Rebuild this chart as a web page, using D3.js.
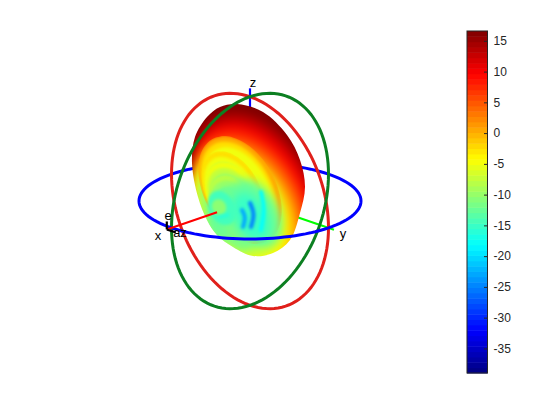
<!DOCTYPE html>
<html><head><meta charset="utf-8">
<style>html,body{margin:0;padding:0;background:#fff}svg{display:block}text{font-family:"Liberation Sans",Arial,sans-serif}</style>
<script src="https://cdn.jsdelivr.net/npm/d3@7/dist/d3.min.js"></script>
</head><body><div id="chart"></div>
<script>
// colour range of the pattern (dB)
const valueRange = [-39, 16.6];
const colorTicks = [15,10,5,0,-5,-10,-15,-20,-25,-30,-35];
// view of the sphere
const viewAz = 45, viewEl = 20, sphereR = 111;
// outline of the radiation pattern, in view-plane units [u, v]
const outline = [[-13,97],[13,89],[37,66],[50,41],[55,14],[50,-12],[40,-39],[23,-52],[3,-55],[-17,-46],[-33,-34],[-43,-19],[-52,4],[-58,38],[-55,64],[-43,84],[-30,94]];
// main lobe iso-level contours: value, centre, semi-axes
const bodyValue = [14, 11, 8, 5, 2, -1, -4, -7, -10];
const bodyCu    = [5, 5, 2, -2, -5, -7, -10, -10, -12];
const bodyCv    = [9, 1, -4, -7, -11, -13, -11, -6, -4];
const bodyA     = [85, 85, 82, 76, 74, 70, 62, 55, 46];
const bodyB     = [57, 55, 53, 52, 50, 47, 44, 40, 36];
// side lobes: centre, semi-axes and values from rim inwards
const lobeCu = [-10, -17, -18, -20];
const lobeCv = [11, 9, 5, 1];
const lobeA  = [58, 44, 36, 26];
const lobeB  = [36, 27, 24, 20];
const lobeV  = [[0.5,-2.5,-5],[-2.5,-5,-7.5],[-5,-7.5,-9.5],[-8,-10,-12]];
const coreCu = [-28, -31];
const coreCv = [-7, -6];
const coreA  = [18, 8];
const coreB  = [13, 7];
const coreV  = [-14.5, -10.5];
// cool regions near the lower part of the lobes, and null streaks
const coolCu = [-27, -12, 5, 1];
const coolCv = [-22, -30, -12, -16];
const coolA  = [18, 20, 36, 26];
const coolB  = [15, 12, 23, 16];
const coolV  = [-12.5, -11.5, -12.5, -15];
const streaks = [
 {v:-23, w:4, pts:[[-8,-9],[-4,-16],[-7,-26]]},
 {v:-25, w:4, pts:[[0,-2],[5,-13],[1,-26]]},
 {v:-18, w:4, pts:[[11,9],[15,-8],[11,-29]]},
 {v:-16, w:3, pts:[[-22,-14],[-30,-16]]}
];
const tiltDeg = -62;

const W=560,H=420;
const cx=250, cy=201;
const u = d3.scaleLinear().domain([-sphereR,sphereR]).range([cx-sphereR,cx+sphereR]);
const v = d3.scaleLinear().domain([-sphereR,sphereR]).range([cy+sphereR,cy-sphereR]);
const svg = d3.select('#chart').append('svg').attr('width',W).attr('height',H);
const defs = svg.append('defs');

function jet(t){
  const f=(x)=>Math.max(0,Math.min(1,x));
  const r=f(Math.min(4*t-1.5,-4*t+4.5)), g=f(Math.min(4*t-0.5,-4*t+3.5)), b=f(Math.min(4*t+0.5,-4*t+2.5));
  return d3.rgb(r*255,g*255,b*255).formatHex();
}
const tScale = d3.scaleLinear().domain(valueRange).range([0,1]).clamp(true);
const col = d => jet(tScale(d));

// 3D projection
const az=viewAz*Math.PI/180, el=viewEl*Math.PI/180;
const proj=([x,y,z])=>[
  sphereR*(-Math.cos(az)*x+Math.sin(az)*y),
  sphereR*(-Math.sin(az)*Math.sin(el)*x-Math.cos(az)*Math.sin(el)*y+Math.cos(el)*z)];
const line=d3.line().x(d=>u(d[0])).y(d=>v(d[1]));
const ts=d3.range(0,361,3).map(d=>d*Math.PI/180);
const circle={
  red:ts.map(t=>proj([0,Math.cos(t),Math.sin(t)])),
  green:ts.map(t=>proj([Math.cos(t),0,Math.sin(t)]))};
const blueBack=d3.range(-45,136,3).map(d=>d*Math.PI/180).map(t=>proj([-Math.cos(t),-Math.sin(t),0]));
const blueFront=d3.range(-45,136,3).map(d=>d*Math.PI/180).map(t=>proj([Math.cos(t),Math.sin(t),0]));
const axisPath=(a,b)=>line([proj(a),proj(b)]);

const ring=(pts,c)=>svg.append('path').attr('d',line(pts)).attr('fill','none').attr('stroke',c).attr('stroke-width',3);

// behind the pattern
ring(blueBack,'#0000ff');
svg.append('path').attr('d',axisPath([0,0,0],[0,1.07,0])).attr('stroke','#00ff00').attr('stroke-width',2.2);
svg.append('path').attr('d',axisPath([0,0,0],[0,0,1.08])).attr('stroke','#0000ff').attr('stroke-width',2.2);

// pattern surface
function ell(cu,cv,a,b){
  const th=tiltDeg*Math.PI/180, dx=Math.cos(th), dy=Math.sin(th);
  return d3.range(0,360,6).map(d=>{
    const t=d*Math.PI/180, p=a*Math.cos(t), q=b*Math.sin(t);
    return [cu+p*dx-q*dy, cv+p*dy+q*dx];
  });
}
const closed=d3.line().x(d=>u(d[0])).y(d=>v(d[1])).curve(d3.curveCatmullRomClosed.alpha(0.5));
const blur=(id,s)=>defs.append('filter').attr('id',id).attr('x','-30%').attr('y','-30%').attr('width','160%').attr('height','160%')
  .attr('color-interpolation-filters','sRGB').append('feGaussianBlur').attr('stdDeviation',s);
blur('b5',4);blur('b2',1.6);blur('b1',1.4);blur('b4',4);
defs.append('clipPath').attr('id','sil').append('path').attr('d',closed(outline));

const surf=svg.append('g').attr('clip-path','url(#sil)');
const body=surf.append('g').attr('filter','url(#b5)');
body.append('rect').attr('x',u(-110)).attr('y',v(110)).attr('width',220).attr('height',220).attr('fill',col(valueRange[1]));
bodyValue.forEach((val,i)=>body.append('path').attr('d',closed(ell(bodyCu[i],bodyCv[i],bodyA[i],bodyB[i]))).attr('fill',col(val)));

lobeV.forEach((vals,i)=>{
  const id='lobe'+i;
  const shape=closed(ell(lobeCu[i],lobeCv[i],lobeA[i],lobeB[i]));
  defs.append('clipPath').attr('id',id).append('path').attr('d',shape);
  const g=surf.append('g').attr('clip-path',`url(#${id})`).append('g').attr('filter','url(#b2)');
  g.append('path').attr('d',shape).attr('fill',col(vals[0]));
  g.append('path').attr('d',closed(ell(lobeCu[i]-1,lobeCv[i]-1,lobeA[i]-5,lobeB[i]-3))).attr('fill',col(vals[1]));
  g.append('path').attr('d',closed(ell(lobeCu[i]-1,lobeCv[i]-2,lobeA[i]-10,lobeB[i]-6))).attr('fill',col(vals[2]));
});
const cool=surf.append('g').attr('filter','url(#b4)');
coolV.forEach((val,i)=>cool.append('path').attr('d',closed(ell(coolCu[i],coolCv[i],coolA[i],coolB[i]))).attr('fill',col(val)));
const core=surf.append('g').attr('filter','url(#b2)');
coreV.forEach((val,i)=>core.append('path').attr('d',closed(ell(coreCu[i],coreCv[i],coreA[i],coreB[i]))).attr('fill',col(val)));
const stk=surf.append('g').attr('filter','url(#b1)');
const open=d3.line().x(d=>u(d[0])).y(d=>v(d[1])).curve(d3.curveBasis);
streaks.forEach(s=>stk.append('path').attr('d',open(s.pts)).attr('fill','none').attr('stroke',col(s.v)).attr('stroke-width',s.w).attr('stroke-linecap','round'));

// in front of the pattern
ring(circle.red,'#e0201b');
ring(circle.green,'#0c7f21');
ring(blueFront,'#0000ff');
svg.append('path').attr('d',axisPath([0.42,0,0],[1.06,0,0])).attr('stroke','#ff0000').attr('stroke-width',2.2);

// local az / el arrows at the tip of x
const tip=proj([1.06,0,0]);
const localAxes=[[[0,0],[0,8]],[[0,0],[9,-3]]];
localAxes.forEach(seg=>svg.append('path')
  .attr('d',line(seg.map(d=>[tip[0]+d[0],tip[1]+d[1]]))).attr('stroke','#000').attr('stroke-width',2.2));

const labels=[['x',158,240],['y',343,238],['z',253,87],['e',168,220],['az',180,237]];
svg.selectAll('text.lab').data(labels).enter().append('text').attr('class','lab')
  .attr('x',d=>d[1]).attr('y',d=>d[2]).attr('text-anchor','middle').attr('font-size',13).attr('fill','#000').text(d=>d[0]);

// colorbar
const cbX=467, cbW=20.5, cbTop=31, cbBot=373;
const cbY=d3.scaleLinear().domain(valueRange).range([cbBot,cbTop]);
const levels=d3.range(64);
const cb=svg.append('g');
const levelV=d3.scaleLinear().domain([0,64]).range(valueRange);
cb.selectAll('rect').data(levels).enter().append('rect')
  .attr('x',cbX).attr('width',cbW)
  .attr('y',d=>cbY(levelV(d+1))).attr('height',d=>cbY(levelV(d))-cbY(levelV(d+1))+0.5)
  .attr('fill',d=>jet((d+0.5)/64));
cb.append('rect').attr('x',cbX).attr('y',cbTop).attr('width',cbW).attr('height',cbBot-cbTop).attr('fill','none').attr('stroke','#262626').attr('stroke-width',1);
const ax=svg.append('g').attr('transform',`translate(${cbX+cbW},0)`)
  .call(d3.axisRight(cbY).tickValues(colorTicks).tickSize(-3.5).tickPadding(6).tickFormat(String));
ax.select('.domain').remove();
ax.selectAll('line').attr('stroke','#262626');
ax.selectAll('text').attr('font-size',12).attr('fill','#262626').style('font-family','"Liberation Sans",Arial,sans-serif');
</script></body></html>
